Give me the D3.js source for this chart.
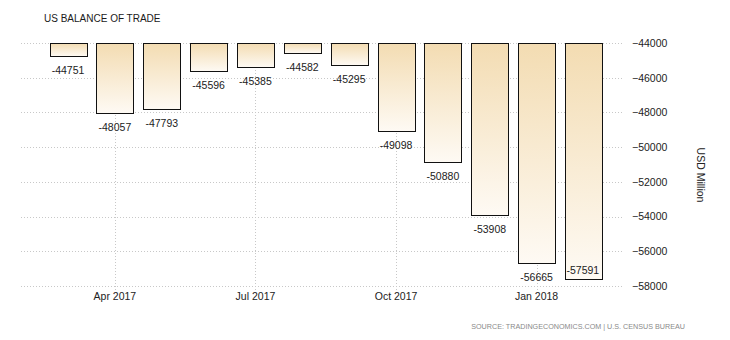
<!DOCTYPE html>
<html>
<head>
<meta charset="utf-8">
<script src="https://cdn.jsdelivr.net/npm/d3@7"></script>
<style>
  html, body { margin: 0; padding: 0; background: #fff; }
  svg { display: block; font-family: "Liberation Sans", Arial, sans-serif; }
</style>
</head>
<body>
<svg id="chart" width="730" height="340"></svg>
<script>
// Monthly US balance of trade, USD million
const months = ["Mar 2017", "Apr 2017", "May 2017", "Jun 2017", "Jul 2017", "Aug 2017",
                "Sep 2017", "Oct 2017", "Nov 2017", "Dec 2017", "Jan 2018", "Feb 2018"];
const balance = [-44751, -48057, -47793, -45596, -45385, -44582,
                 -45295, -49098, -50880, -53908, -56665, -57591];
const yTicks = [-44000, -46000, -48000, -50000, -52000, -54000, -56000, -58000];
const xTickMonths = ["Apr 2017", "Jul 2017", "Oct 2017", "Jan 2018"];

const svg = d3.select("#chart");

const x = d3.scaleBand()
  .domain(months)
  .range([44.6, 606.9])
  .paddingInner(0.21)
  .paddingOuter(0.105);

const y = d3.scaleLinear()
  .domain([-44000, -58000])
  .range([43, 286]);

// bar gradient: warm beige at the top fading to near white
const defs = svg.append("defs");
const grad = defs.append("linearGradient")
  .attr("id", "barFill")
  .attr("x1", 0).attr("y1", 0).attr("x2", 0).attr("y2", 1);
grad.append("stop").attr("offset", "0%").attr("stop-color", "#f3dcb2");
grad.append("stop").attr("offset", "100%").attr("stop-color", "#fefaf4");

// title
svg.append("text")
  .attr("x", 44).attr("y", 21.5)
  .attr("font-size", 10)
  .attr("fill", "#1a1a1a")
  .text("US BALANCE OF TRADE");

// horizontal grid lines + right-side tick labels
const yAxis = d3.axisRight(y)
  .tickValues(yTicks)
  .tickSize(0)
  .tickPadding(0)
  .tickFormat(d3.format("d"));

const yg = svg.append("g").attr("transform", "translate(632,0)").call(yAxis);
yg.select(".domain").remove();
yg.selectAll("text")
  .attr("font-size", 10.5)
  .attr("font-family", "Liberation Sans, Arial, sans-serif")
  .attr("fill", "#222");

svg.append("g").selectAll("line")
  .data(yTicks)
  .join("line")
  .attr("x1", 21).attr("x2", 622)
  .attr("y1", d => Math.round(y(d)) + 0.5)
  .attr("y2", d => Math.round(y(d)) + 0.5)
  .attr("stroke", "#c8c8c8")
  .attr("stroke-dasharray", "1,2");

// vertical grid lines at the labelled months
const xc = m => x(m) + x.bandwidth() / 2;
svg.append("g").selectAll("line")
  .data(xTickMonths)
  .join("line")
  .attr("x1", d => Math.round(xc(d)) + 0.5)
  .attr("x2", d => Math.round(xc(d)) + 0.5)
  .attr("y1", 43).attr("y2", 292)
  .attr("stroke", "#c8c8c8")
  .attr("stroke-dasharray", "1,2");

// x axis labels
svg.append("g").selectAll("text")
  .data(xTickMonths)
  .join("text")
  .attr("x", d => xc(d))
  .attr("y", 300)
  .attr("text-anchor", "middle")
  .attr("font-size", 10.5)
  .attr("fill", "#222")
  .text(d => d);

// bars hang down from the top of the scale
const data = months.map((m, i) => ({ m, v: balance[i] }));
svg.append("g").selectAll("rect")
  .data(data)
  .join("rect")
  .attr("x", d => Math.round(x(d.m)) + 0.5)
  .attr("y", Math.round(y(-44000)) + 0.5)
  .attr("width", Math.round(x.bandwidth()))
  .attr("height", d => Math.round(y(d.v) - y(-44000)))
  .attr("fill", "url(#barFill)")
  .attr("stroke", "#111")
  .attr("stroke-width", 1);

// value labels: below each bar, inside for the last one
const last = data.length - 1;
svg.append("g").selectAll("text")
  .data(data)
  .join("text")
  .attr("x", (d, i) => i === last ? x(d.m) + 1.5 : xc(d.m))
  .attr("y", (d, i) => i === last ? y(d.v) - 5 : y(d.v) + 18)
  .attr("text-anchor", (d, i) => i === last ? "start" : "middle")
  .attr("font-size", 10.5)
  .attr("fill", "#222")
  .text(d => d.v);

// axis title
svg.append("text")
  .attr("transform", "translate(697,175) rotate(90)")
  .attr("text-anchor", "middle")
  .attr("font-size", 10.5)
  .attr("fill", "#222")
  .text("USD Million");

// source note
svg.append("text")
  .attr("x", 685).attr("y", 329)
  .attr("text-anchor", "end")
  .attr("font-size", 7.2)
  .attr("fill", "#8a8a8a")
  .text("SOURCE: TRADINGECONOMICS.COM | U.S. CENSUS BUREAU");
</script>
</body>
</html>
